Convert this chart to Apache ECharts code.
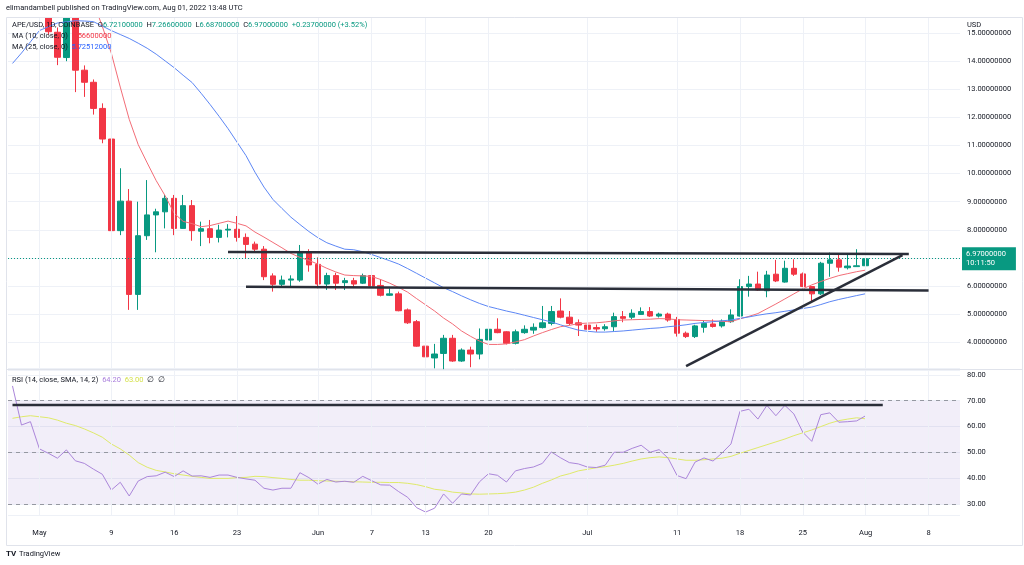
<!DOCTYPE html>
<html><head><meta charset="utf-8">
<script src="https://cdn.jsdelivr.net/npm/echarts@6/dist/echarts.min.js"></script>
<style>html,body{margin:0;padding:0;background:#fff}#c{width:1024px;height:565px}</style>
</head><body><div id="c"></div><script>
// ---------- DATA ----------
const firstDay = '2022-04-28';
const lastDay = '2022-08-11';
const candleStart = '2022-05-02';
const open  = [16.3,15.03,14.13,16.0,13.68,13.25,12.32,11.23,7.97,9.02, 5.70,7.79,8.53,8.64,9.12,8.05,8.86,7.95,8.04,7.73, 7.99,8.02,7.73,7.49,7.31,6.36,6.06,6.21,6.21,7.22, 6.77,6.07,6.37,6.12,6.19,6.10,6.37,6.02,5.67,5.72, 5.15,4.73,3.86,3.44,3.60,4.14,3.33,3.72,3.58,4.08, 4.46,4.37,3.96,4.34,4.43,4.52,4.67,5.11,4.89,4.69, 4.61,4.52,4.48,4.55,4.91,4.89,4.99,5.09,4.93,5.0, 4.81,4.32,4.2,4.53,4.65,4.58,4.73,4.93,5.98,6.07, 5.83,6.42,6.14,6.63,6.43,5.98,5.72,6.81,6.93,6.65, 6.69,6.721];
const high  = [16.6,15.2,16.4,16.2,13.85,13.35,12.5,11.6,10.19,9.45, 9.0,9.77,8.75,9.24,9.24,9.24,9.06,8.29,8.35,8.18, 8.2,8.49,7.87,7.58,7.42,6.45,6.37,6.38,7.46,7.31, 7.02,6.47,6.47,6.29,6.29,6.44,6.41,6.24,5.92,5.80, 5.2,4.79,3.98,3.94,4.26,4.26,3.78,3.84,4.49,4.81, 4.85,4.39,4.45,4.6,4.67,5.29,5.29,5.56,5.11,4.81, 4.77,4.63,4.64,5.05,5.11,5.17,5.24,5.25,5.05,5.05, 4.9,4.38,4.62,4.79,4.81,4.81,5.17,6.24,6.36,6.51, 6.54,6.93,6.9,6.95,6.48,6.0,6.86,7.19,7.14,7.14, 7.31,7.266];
const low   = [14.95,13.86,14.0,12.9,12.73,12.1,11.08,7.93,7.81,5.15, 5.15,7.64,7.2,8.05,7.81,8.04,7.61,7.42,7.52,7.55, 7.73,7.58,6.96,7.22,6.21,5.80,5.98,5.97,6.15,6.51, 5.92,5.86,5.86,5.86,5.97,6.07,5.84,5.63,5.65,5.1, 4.65,3.84,3.19,3.07,3.04,3.3,3.3,3.11,3.39,3.86, 4.32,3.92,3.92,4.3,4.3,4.49,4.6,4.85,4.6,4.22, 4.34,4.37,4.41,4.40,4.71,4.82,4.97,4.9,4.88,4.73, 4.2,4.15,4.15,4.34,4.52,4.52,4.69,4.91,5.62,5.83, 5.6,6.14,6.12,6.36,5.96,5.41,5.68,6.33,6.51,6.59, 6.69,6.687];
const close = [15.05,14.14,16.0,13.68,13.25,12.32,11.23,7.97,9.02,5.70, 7.79,8.53,8.64,9.12,8.05,8.86,7.97,8.04,7.73,7.99, 8.02,7.73,7.48,7.31,6.33,6.06,6.21,6.25,7.22,6.75, 6.07,6.37,6.10,6.19,6.07,6.37,6.0,5.67,5.72,5.12, 4.69,3.86,3.48,3.58,4.14,3.33,3.72,3.58,4.10,4.46, 4.34,3.96,4.37,4.46,4.53,4.69,5.09,4.89,4.67,4.61, 4.46,4.47,4.55,4.91,4.85,5.03,5.09,4.93,5.0,4.79, 4.32,4.2,4.58,4.67,4.56,4.75,4.97,5.98,6.07,5.86, 6.39,6.18,6.63,6.42,5.98,5.72,6.81,6.93,6.67,6.71, 6.72,6.97];

const ma25Start = '2022-04-28';
const ma25 = [13.92,14.29,14.69,15.09,15.23,15.36,15.40,15.44,15.43,15.41,15.25,15.09,14.95,14.81,14.64,14.46,14.25,14.01,13.77,13.50,13.24,12.86,12.46,12.04,11.60,11.12,10.64,10.05,9.52,9.08,8.76,8.45,8.19,7.94,7.72,7.54,7.42,7.31,7.29,7.22,7.12,7.01,6.90,6.78,6.62,6.45,6.28,6.11,5.94,5.80,5.65,5.51,5.38,5.27,5.19,5.11,5.04,4.96,4.88,4.80,4.72,4.62,4.52,4.43,4.39,4.36,4.36,4.38,4.40,4.43,4.46,4.49,4.51,4.55,4.58,4.62,4.67,4.70,4.73,4.76,4.79,4.85,4.90,4.96,5.01,5.05,5.10,5.15,5.20,5.25,5.34,5.44,5.52,5.59,5.66,5.725];
const ma10Start = '2022-05-05';
const ma10 = [17.2,16.6,16.1,15.24,14.29,13.08,11.93,11.03,10.38,9.75,9.21,8.59,8.30,8.22,8.11,8.15,8.23,8.31,8.23,8.14,7.92,7.74,7.55,7.36,7.16,7.02,6.91,6.78,6.63,6.50,6.39,6.37,6.36,6.34,6.23,6.10,5.95,5.78,5.55,5.33,5.11,4.86,4.65,4.40,4.21,4.04,3.92,3.92,3.94,4.01,4.09,4.22,4.34,4.45,4.55,4.60,4.66,4.68,4.69,4.72,4.76,4.79,4.80,4.81,4.82,4.84,4.83,4.80,4.79,4.78,4.77,4.76,4.74,4.73,4.83,4.92,5.02,5.19,5.36,5.54,5.72,5.90,6.04,6.16,6.27,6.37,6.44,6.51,6.566];

const rsiStart = '2022-04-28';
const rsi = [75.7,60.6,61.9,51.4,49.7,47.8,51.0,46.8,45.8,43.6,41.6,35.5,38.5,33.2,39.0,40.7,41.0,42.4,40.7,42.9,40.9,41.0,40.4,41.3,41.3,40.4,39.8,39.3,36.2,35.5,36.2,36.2,42.2,40.3,37.8,39.6,38.6,38.9,38.5,40.8,39.1,37.5,37.4,34.9,32.7,28.7,27.0,28.5,34.0,30.4,34.0,33.6,38.7,41.8,41.2,38.6,42.9,43.8,44.4,45.8,50.2,48.0,46.1,45.6,44.4,44.2,45.1,50.1,50.1,51.6,52.8,50.1,51.1,47.8,41.1,39.9,46.3,47.9,46.7,49.8,53.3,65.9,66.7,62.9,68.2,64.2,68.2,64.9,57.8,54.3,64.6,65.3,61.7,61.9,62.2,64.2];
const rsiSma = [63.2,63.8,64.2,63.8,63.4,62.5,61.3,60.4,59.1,57.6,55.9,53.3,51.4,49.0,46.1,44.3,43.1,42.5,41.8,41.3,40.8,40.4,40.0,40.0,40.0,40.3,40.4,40.8,40.7,40.3,40.0,39.6,39.3,39.3,39.1,39.0,38.9,38.8,38.7,38.6,38.5,38.5,38.4,38.4,38.1,37.6,36.8,35.8,35.4,34.7,34.4,34.0,33.9,34.0,34.1,34.3,34.7,35.5,36.6,38.1,39.4,40.9,41.8,42.9,43.5,44.1,44.5,45.1,45.8,46.7,47.5,48.0,48.3,48.0,47.5,47.0,47.0,47.2,47.5,47.8,48.5,49.7,50.8,51.9,53.0,54.1,55.2,56.5,57.6,58.7,60.0,61.3,62.3,62.9,63.4,63.0];

const tickDates = ['2022-05-01','2022-05-09','2022-05-16','2022-05-23','2022-06-01','2022-06-07','2022-06-13','2022-06-20','2022-07-01','2022-07-11','2022-07-18','2022-07-25','2022-08-01','2022-08-08'];
const tickTexts = ['May','9','16','23','Jun','7','13','20','Jul','11','18','25','Aug','8'];

// drawn trend lines: [day offset from 2022-05-01, price]
const resistanceLine = [[21.0, 7.21], [96.8, 7.14]];
const supportLine = [[23.0, 5.975], [99.0, 5.84]];
const risingLine = [[72.0, 3.15], [96.1, 7.10]];
const rsiLine = [[-3.0, 68.3], [93.9, 68.3]];
const lastPrice = 6.97;

// ---------- BUILD ----------
function dayList(a, b) {
  const out = []; let t = new Date(a + 'T00:00:00Z').getTime(); const e = new Date(b + 'T00:00:00Z').getTime();
  while (t <= e) { out.push(new Date(t).toISOString().slice(0, 10)); t += 86400000; }
  return out;
}
const categories = dayList(firstDay, lastDay);
const dayZero = categories.indexOf('2022-05-01');
function align(vals, start) {
  const s = categories.indexOf(start);
  return categories.map((d, k) => (k >= s && k - s < vals.length) ? vals[k - s] : '-');
}
const cs = categories.indexOf(candleStart);
const candleData = categories.map((d, k) => {
  const j = k - cs;
  return (j >= 0 && j < open.length) ? [open[j], close[j], low[j], high[j]] : '-';
});
const emptyData = categories.map(() => '-');
const tickMap = {}; tickDates.forEach((d, i) => tickMap[d] = tickTexts[i]);

const FONT = 'Roboto, "Liberation Sans", sans-serif';
const FS = 7.5;
const TXT = '#131722';
const UP = '#089981', DOWN = '#f23645';
const GRIDC = '#eef1f7';
const vMin = -dayZero - 0.5, vMax = categories.length - dayZero - 0.5;

const chart = echarts.init(document.getElementById('c'));
const option = {
  animation: false,
  backgroundColor: '#fff',
  textStyle: { fontFamily: FONT },
  grid: [
    { left: 8, right: 64, top: 17, height: 351 },
    { left: 8, right: 64, top: 370, height: 145 }
  ],
  xAxis: [
    { type: 'category', gridIndex: 0, data: categories, boundaryGap: true, axisLine: { show: false }, axisTick: { show: false }, axisLabel: { show: false }, splitLine: { show: false } },
    { type: 'value', gridIndex: 0, min: vMin, max: vMax, show: false },
    { type: 'category', gridIndex: 1, data: categories, boundaryGap: true, axisLine: { show: false }, axisTick: { show: false },
      axisLabel: { interval: (i, v) => tickMap[v] !== undefined, formatter: v => tickMap[v] || '', fontSize: FS, color: TXT, margin: 14, fontFamily: FONT },
      splitLine: { show: false } },
    { type: 'value', gridIndex: 1, min: vMin, max: vMax, show: false }
  ],
  yAxis: [
    { type: 'value', gridIndex: 0, position: 'right', min: 3.082, max: 15.573, minInterval: 1, maxInterval: 1, splitNumber: 12,
      axisLine: { show: false }, axisTick: { show: false },
      axisLabel: { showMinLabel: false, showMaxLabel: false, formatter: v => v.toFixed(8), fontSize: FS, color: TXT, margin: 7, fontFamily: FONT },
      splitLine: { lineStyle: { color: GRIDC, width: 1 } } },
    { type: 'value', gridIndex: 1, position: 'right', min: 25.87, max: 81.85, minInterval: 10, maxInterval: 10, splitNumber: 6,
      axisLine: { show: false }, axisTick: { show: false },
      axisLabel: { showMinLabel: false, showMaxLabel: false, formatter: v => v.toFixed(2), fontSize: FS, color: TXT, margin: 7, fontFamily: FONT },
      splitLine: { lineStyle: { color: GRIDC, width: 1 } } }
  ],
  series: [
    { type: 'line', xAxisIndex: 0, yAxisIndex: 0, data: emptyData, z: 1, silent: true, symbol: 'none',
      markLine: { silent: true, symbol: 'none', label: { show: false }, lineStyle: { color: GRIDC, width: 1, type: 'solid' }, data: tickDates.map(d => ({ xAxis: d })) } },
    { type: 'line', xAxisIndex: 2, yAxisIndex: 1, data: emptyData, z: 1, silent: true, symbol: 'none',
      markLine: { silent: true, symbol: 'none', label: { show: false }, lineStyle: { color: GRIDC, width: 1, type: 'solid' }, data: tickDates.map(d => ({ xAxis: d })) } },
    { type: 'candlestick', xAxisIndex: 0, yAxisIndex: 0, data: candleData, barWidth: 6, z: 3,
      itemStyle: { color: UP, color0: DOWN, borderColor: UP, borderColor0: DOWN, borderWidth: 1 },
      markLine: { silent: true, symbol: 'none', precision: 2,
        lineStyle: { color: UP, type: [1, 2], width: 1 },
        label: { show: true, position: 'end', distance: 2, formatter: '6.97000000\n10:11:50', color: '#fff', backgroundColor: UP,
          padding: [3, 10, 2, 4], fontSize: FS, lineHeight: 9, fontFamily: FONT, align: 'left' },
        data: [{ yAxis: lastPrice }] } },
    { type: 'line', xAxisIndex: 0, yAxisIndex: 0, data: align(ma10, ma10Start), symbol: 'none', z: 4,
      lineStyle: { color: '#f26d77', width: 1 } },
    { type: 'line', xAxisIndex: 0, yAxisIndex: 0, data: align(ma25, ma25Start), symbol: 'none', z: 4,
      lineStyle: { color: '#5d87f5', width: 1 } },
    { type: 'line', xAxisIndex: 1, yAxisIndex: 0, data: resistanceLine, symbol: 'none', z: 6, lineStyle: { color: '#2a2e39', width: 2.5 } },
    { type: 'line', xAxisIndex: 1, yAxisIndex: 0, data: supportLine, symbol: 'none', z: 6, lineStyle: { color: '#2a2e39', width: 2.5 } },
    { type: 'line', xAxisIndex: 1, yAxisIndex: 0, data: risingLine, symbol: 'none', z: 6, lineStyle: { color: '#2a2e39', width: 2.5 } },
    { type: 'line', xAxisIndex: 2, yAxisIndex: 1, data: align(rsiSma, rsiStart), symbol: 'none', z: 3,
      lineStyle: { color: '#dfea6a', width: 1 } },
    { type: 'line', xAxisIndex: 2, yAxisIndex: 1, data: align(rsi, rsiStart), symbol: 'none', z: 4,
      lineStyle: { color: '#ab86da', width: 1 },
      markArea: { silent: true, itemStyle: { color: 'rgba(126,87,194,0.10)' }, data: [[{ yAxis: 30 }, { yAxis: 70 }]] },
      markLine: { silent: true, symbol: 'none', label: { show: false }, lineStyle: { color: '#9598a1', type: [4, 4], width: 1 },
        data: [{ yAxis: 70 }, { yAxis: 50 }, { yAxis: 30 }] } },
    { type: 'line', xAxisIndex: 3, yAxisIndex: 1, data: rsiLine, symbol: 'none', z: 6, lineStyle: { color: '#2a2e39', width: 2.5 } }
  ],
  graphic: [
    { type: 'rect', shape: { x: 0, y: 0, width: 1024, height: 17 }, style: { fill: '#fff' }, silent: true, z: 9 },
    { type: 'rect', shape: { x: 6.5, y: 17.5, width: 1016, height: 528 }, style: { fill: 'none', stroke: '#e0e3eb', lineWidth: 1 }, silent: true, z: 9 },
    { type: 'line', shape: { x1: 7, y1: 369.5, x2: 1022, y2: 369.5 }, style: { stroke: '#e0e3eb', lineWidth: 1 }, silent: true, z: 1 },
    { type: 'text', x: 6, y: 8, style: { text: 'elimandambell published on TradingView.com, Aug 01, 2022 13:48 UTC', fill: TXT, fontSize: FS, fontFamily: FONT, verticalAlign: 'middle' }, z: 10 },
    { type: 'text', x: 967, y: 25, style: { text: 'USD', fill: TXT, fontSize: FS, fontFamily: FONT, verticalAlign: 'middle' }, z: 10 },
    { type: 'text', x: 12, y: 25.5, z: 10, style: { fontSize: FS, fontFamily: FONT, verticalAlign: 'middle',
      text: '{d|APE/USD, 1D, COINBASE}  {d|O}{g|6.72100000}  {d|H}{g|7.26600000}  {d|L}{g|6.68700000}  {d|C}{g|6.97000000}  {g|+0.23700000 (+3.52%)}',
      rich: { d: { fill: TXT, fontSize: FS, fontFamily: FONT }, g: { fill: UP, fontSize: FS, fontFamily: FONT } } } },
    { type: 'text', x: 12, y: 36.5, z: 10, style: { fontSize: FS, fontFamily: FONT, verticalAlign: 'middle',
      text: '{d|MA (10, close, 0)}  {r|6.56600000}', rich: { d: { fill: TXT, fontSize: FS, fontFamily: FONT }, r: { fill: '#f23645', fontSize: FS, fontFamily: FONT } } } },
    { type: 'text', x: 12, y: 47.5, z: 10, style: { fontSize: FS, fontFamily: FONT, verticalAlign: 'middle',
      text: '{d|MA (25, close, 0)}  {b|5.72512000}', rich: { d: { fill: TXT, fontSize: FS, fontFamily: FONT }, b: { fill: '#2962ff', fontSize: FS, fontFamily: FONT } } } },
    { type: 'text', x: 12, y: 380, z: 10, style: { fontSize: FS, fontFamily: FONT, verticalAlign: 'middle',
      text: '{d|RSI (14, close, SMA, 14, 2)}  {p|64.20}  {y|63.00}  {d|∅  ∅}',
      rich: { d: { fill: TXT, fontSize: FS, fontFamily: FONT }, p: { fill: '#a97fdc', fontSize: FS, fontFamily: FONT }, y: { fill: '#d4e04a', fontSize: FS, fontFamily: FONT } } } },
    { type: 'text', x: 6, y: 554, z: 10, style: { text: 'TV', fill: TXT, fontSize: 8, fontWeight: 'bold', fontFamily: FONT, verticalAlign: 'middle' } },
    { type: 'text', x: 19, y: 554, z: 10, style: { text: 'TradingView', fill: TXT, fontSize: FS, fontFamily: FONT, verticalAlign: 'middle' } }
  ]
};
chart.setOption(option);
</script></body></html>
